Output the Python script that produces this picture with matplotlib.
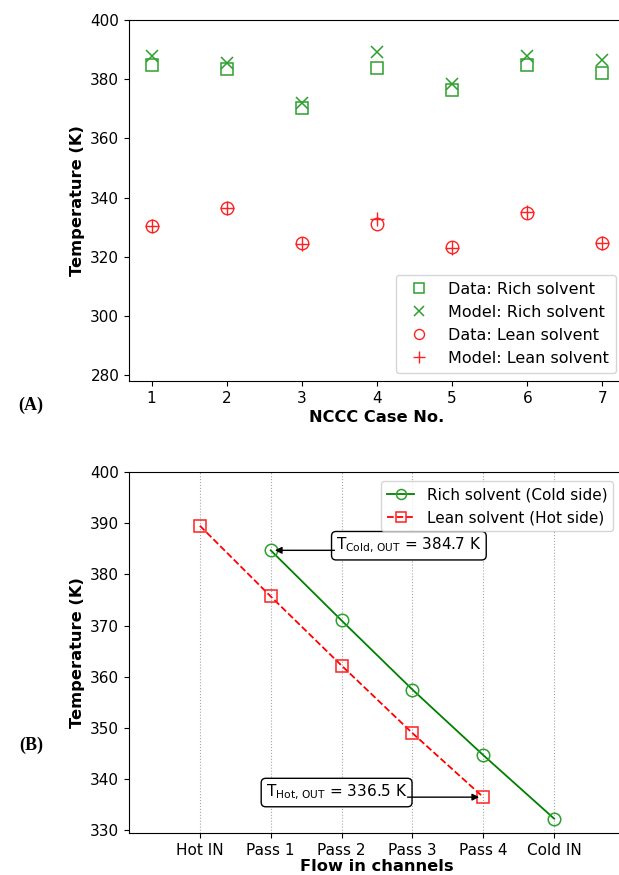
import matplotlib
matplotlib.use("Agg")
import matplotlib.pyplot as plt

# ---- panel (A): NCCC cases, rich / lean solvent temperatures ----
cases = [1, 2, 3, 4, 5, 6, 7]
rich_data = [384.8, 383.4, 370.4, 383.6, 376.2, 384.8, 382.0]
rich_model = [387.9, 385.4, 371.9, 389.1, 378.4, 387.9, 386.3]
lean_data = [330.3, 336.6, 324.5, 331.2, 323.3, 334.6, 324.7]
lean_model = [330.3, 336.6, 324.2, 332.6, 323.1, 335.1, 324.7]

# ---- panel (B): temperature profile along the exchanger passes ----
stations = ["Hot IN", "Pass 1", "Pass 2", "Pass 3", "Pass 4", "Cold IN"]
rich_profile = [384.7, 371.0, 357.5, 344.7, 332.3]   # Pass 1 .. Cold IN
lean_profile = [389.5, 375.7, 362.2, 349.0, 336.5]   # Hot IN .. Pass 4
T_cold_out = 384.7
T_hot_out = 336.5

FS = 11
LFS = 11.7
fig = plt.figure(figsize=(6.19, 8.75), dpi=100)
ax1 = fig.add_axes([0.2084, 0.5646, 0.8013, 0.4126])
ax2 = fig.add_axes([0.2084, 0.048, 0.8013, 0.4126])

green = "#2ca02c"
red = "#ff2020"

ax1.plot(cases, rich_data, ls="none", marker="s", ms=9, mfc="none",
         mec=green, mew=1.1, label="Data: Rich solvent")
ax1.plot(cases, rich_model, ls="none", marker="x", ms=9, color=green,
         mew=1.1, label="Model: Rich solvent")
ax1.plot(cases, lean_data, ls="none", marker="o", ms=9, mfc="none",
         mec=red, mew=1.0, label="Data: Lean solvent")
ax1.plot(cases, lean_model, ls="none", marker="+", ms=10, color=red,
         mew=1.0, label="Model: Lean solvent")
ax1.set_xlim(0.7, 7.3)
ax1.set_ylim(278, 400)
ax1.set_yticks(range(280, 401, 20))
ax1.set_xticks(cases)
ax1.set_xlabel("NCCC Case No.", fontsize=LFS, fontweight="bold", labelpad=3)
ax1.set_ylabel("Temperature (K)", fontsize=LFS, fontweight="bold")
ax1.tick_params(labelsize=FS)
ax1.legend(loc="lower right", bbox_to_anchor=(0.998, 0.0), fontsize=11.5,
           handletextpad=0.8, markerscale=0.8, borderpad=0.45)

# panel B
x_rich = list(range(1, 6))
x_lean = list(range(0, 5))
ax2.plot(x_rich, rich_profile, color="green", lw=1.3, marker="o", ms=9,
         mfc="none", mec=green, mew=1.1, label="Rich solvent (Cold side)")
ax2.plot(x_lean, lean_profile, color="red", lw=1.3, ls="--", marker="s",
         ms=9, mfc="none", mec=red, mew=1.1, label="Lean solvent (Hot side)")
ax2.set_xlim(-1, 6)
ax2.set_ylim(329.5, 400)
ax2.set_xticks(range(len(stations)))
ax2.set_xticklabels(stations)
ax2.grid(axis="x", ls=":", color="gray", alpha=0.7)
ax2.set_xlabel("Flow in channels", fontsize=LFS, fontweight="bold", labelpad=1)
ax2.set_ylabel("Temperature (K)", fontsize=LFS, fontweight="bold")
ax2.tick_params(labelsize=FS)
ax2.legend(loc="upper right", bbox_to_anchor=(0.992, 0.995), fontsize=11,
           markerscale=0.8, handlelength=1.8)

# outlet temperature call-outs: boxed label plus horizontal arrow
box = dict(boxstyle="round,pad=0.3", fc="white", ec="black", lw=1)
arrow = dict(arrowstyle="-|>", color="black", lw=1, shrinkA=0, shrinkB=3)
ax2.text(2.95, T_cold_out + 0.9,
         r"$\mathregular{T_{Cold,\,OUT}}$ = %.1f K" % T_cold_out,
         fontsize=FS, va="center", ha="center", bbox=box)
ax2.annotate("", xy=(1, T_cold_out), xytext=(1.9, T_cold_out),
             arrowprops=arrow)
ax2.text(1.93, T_hot_out + 0.9,
         r"$\mathregular{T_{Hot,\,OUT}}$ = %.1f K" % T_hot_out,
         fontsize=FS, va="center", ha="center", bbox=box)
ax2.annotate("", xy=(4, T_hot_out), xytext=(2.93, T_hot_out),
             arrowprops=arrow)

fig.text(0.05, 0.537, "(A)", fontsize=13, fontweight="bold",
         family="Liberation Serif", ha="center", va="center")
fig.text(0.05, 0.148, "(B)", fontsize=13, fontweight="bold",
         family="Liberation Serif", ha="center", va="center")

fig.savefig("out.png", dpi=100)
